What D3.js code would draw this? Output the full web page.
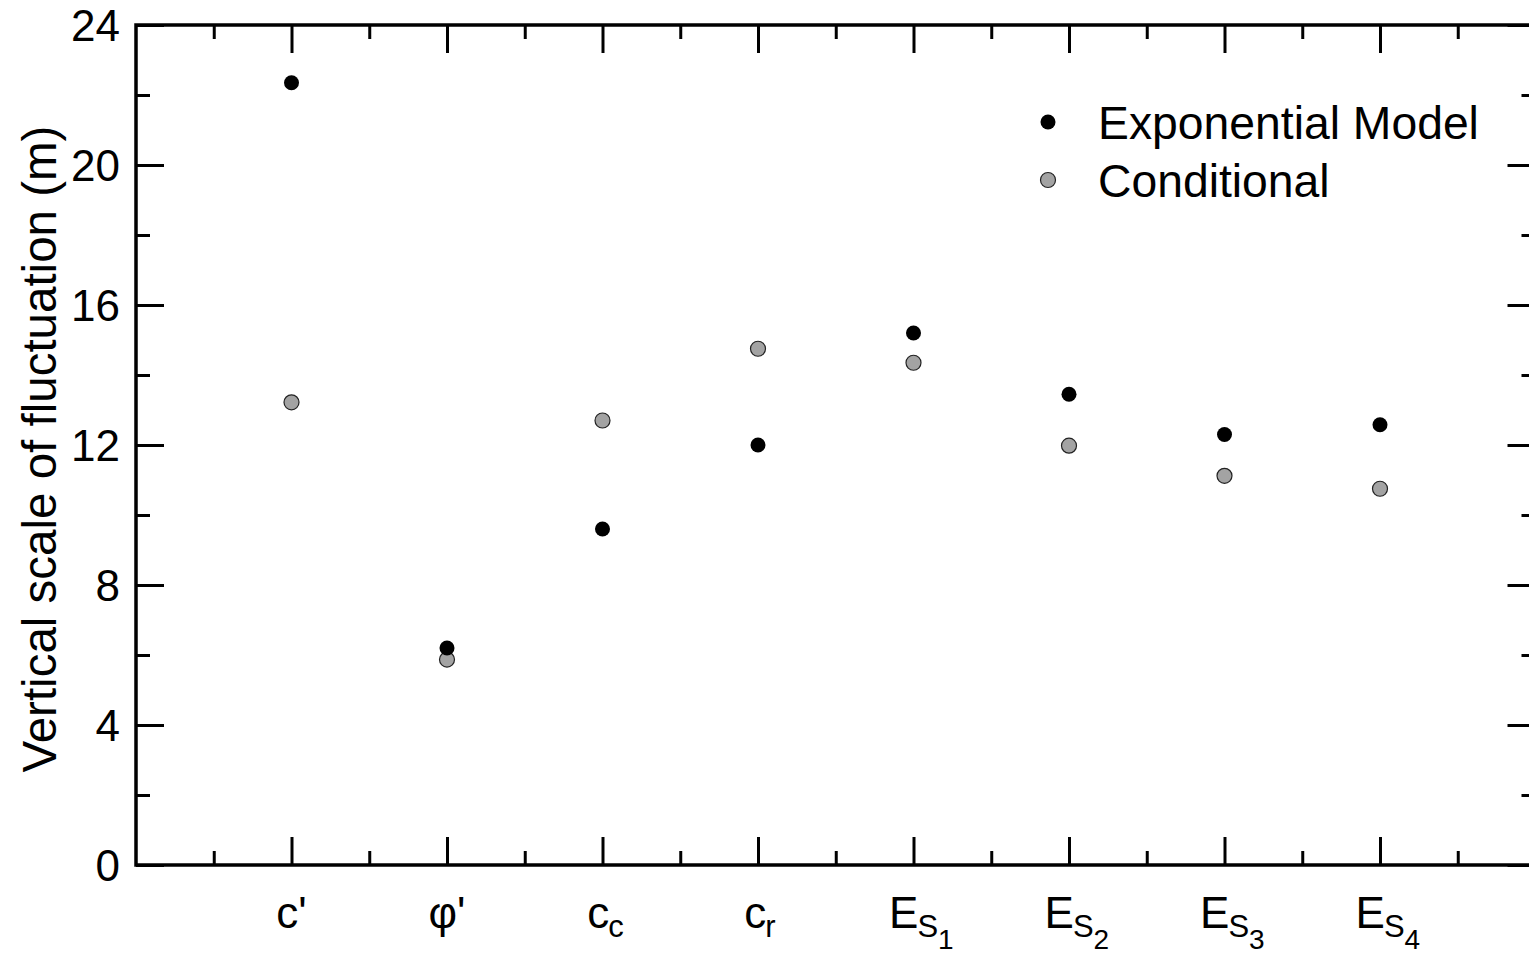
<!DOCTYPE html>
<html><head><meta charset="utf-8">
<script src="https://cdn.jsdelivr.net/npm/d3@7"></script>
<style>
html,body{margin:0;padding:0;background:#fff;overflow:hidden}
text{font-family:"Liberation Sans",Arial,sans-serif;fill:#000}
</style></head><body>
<script>
const categories = ["c'", "φ'", "c_c", "c_r", "E_S_1", "E_S_2", "E_S_3", "E_S_4"];
const exponentialModel = [22.35, 6.2, 9.6, 12.0, 15.2, 13.45, 12.3, 12.58];
const conditional = [13.22, 5.87, 12.7, 14.75, 14.35, 11.98, 11.12, 10.75];
const yMajorTicks = [0, 4, 8, 12, 16, 20, 24];
const yMinorTicks = [2, 6, 10, 14, 18, 22];
const seriesNames = ["Exponential Model", "Conditional"];

const W = 1529, H = 957;
const L = 136, T = 25, B = 865, step = 155.5;
const R = L + 9 * step;

const svg = d3.select("body").append("svg").attr("width", W).attr("height", H);
const x = d3.scaleLinear().domain([0, 9]).range([L, R]);
const y = d3.scaleLinear().domain([0, 24]).range([B, T]);

const xMajor = categories.map((d, i) => i + 1);
const xMinor = d3.range(0, 9).map(i => i + 0.5);

const major = 28, minor = 14;
function styleAxis(g){
  g.select(".domain").remove();
  g.selectAll(".tick line").attr("stroke","#000").attr("stroke-width",3);
  g.selectAll("text").style("font-size","43px").attr("fill","#000");
}
// left
svg.append("g").attr("transform",`translate(${L},0)`)
  .call(d3.axisLeft(y).tickValues(yMajorTicks).tickSize(-major).tickPadding(16).tickFormat(d3.format("d")))
  .call(styleAxis).selectAll("text").attr("dy","0.36em").style("font-size","44px");
svg.append("g").attr("transform",`translate(${L},0)`)
  .call(d3.axisLeft(y).tickValues(yMinorTicks).tickSize(-minor).tickFormat(""))
  .call(styleAxis);
// right
svg.append("g").attr("transform",`translate(${R},0)`)
  .call(d3.axisRight(y).tickValues(yMajorTicks).tickSize(-major).tickFormat(""))
  .call(styleAxis);
svg.append("g").attr("transform",`translate(${R},0)`)
  .call(d3.axisRight(y).tickValues(yMinorTicks).tickSize(-minor).tickFormat(""))
  .call(styleAxis);
// bottom
svg.append("g").attr("transform",`translate(0,${B})`)
  .call(d3.axisBottom(x).tickValues(xMajor).tickSize(-major).tickFormat(""))
  .call(styleAxis);
svg.append("g").attr("transform",`translate(0,${B})`)
  .call(d3.axisBottom(x).tickValues(xMinor).tickSize(-minor).tickFormat(""))
  .call(styleAxis);
// top
svg.append("g").attr("transform",`translate(0,${T})`)
  .call(d3.axisTop(x).tickValues(xMajor).tickSize(-major).tickFormat(""))
  .call(styleAxis);
svg.append("g").attr("transform",`translate(0,${T})`)
  .call(d3.axisTop(x).tickValues(xMinor).tickSize(-minor).tickFormat(""))
  .call(styleAxis);

// frame
svg.append("rect").attr("x",L).attr("y",T).attr("width",R-L).attr("height",B-T)
  .attr("fill","none").attr("stroke","#000").attr("stroke-width",3.5);

// x labels with subscripts
categories.forEach((c, i) => {
  const parts = c.split("_");
  const g = svg.append("g");
  const main = g.append("text").attr("x", x(i+1)).attr("y", 928)
    .attr("text-anchor","middle").style("font-size","44px").text(parts[0]);
  if (parts.length > 1) {
    const bb = main.node().getBBox();
    const sub = g.append("text").attr("x", bb.x + bb.width - 1).attr("y", 937)
      .style("font-size","31px");
    sub.append("tspan").text(parts[1]);
    if (parts.length > 2) {
      sub.append("tspan").attr("dy", 12).style("font-size","28px").text(parts[2]);
    }
    const sw = sub.node().getBBox().width;
    g.attr("transform", `translate(${-0.27 * sw},0)`);
  }
});

// y title
svg.append("text").attr("transform",`translate(56,${449}) rotate(-90)`)
  .attr("text-anchor","middle").style("font-size","47.5px")
  .text("Vertical scale of fluctuation (m)");

// points
const r = 7.5;
svg.append("g").selectAll("circle").data(conditional).join("circle")
  .attr("cx",(d,i)=>x(i+1)).attr("cy",d=>y(d)).attr("r",r)
  .attr("fill","#a3a3a3").attr("stroke","#222").attr("stroke-width",1.2);
svg.append("g").selectAll("circle").data(exponentialModel).join("circle")
  .attr("cx",(d,i)=>x(i+1)).attr("cy",d=>y(d)).attr("r",r)
  .attr("fill","#000");

// legend
const leg = svg.append("g");
seriesNames.forEach((n, i) => {
  const cy = 122 + i * 58;
  leg.append("circle").attr("cx",1048).attr("cy",cy).attr("r",r)
    .attr("fill", i === 0 ? "#000" : "#a3a3a3")
    .attr("stroke", i === 0 ? "none" : "#222").attr("stroke-width",1.2);
  leg.append("text").attr("x",1098).attr("y",cy).attr("dy","0.36em")
    .style("font-size","46.3px").text(n);
});
</script>
</body></html>
